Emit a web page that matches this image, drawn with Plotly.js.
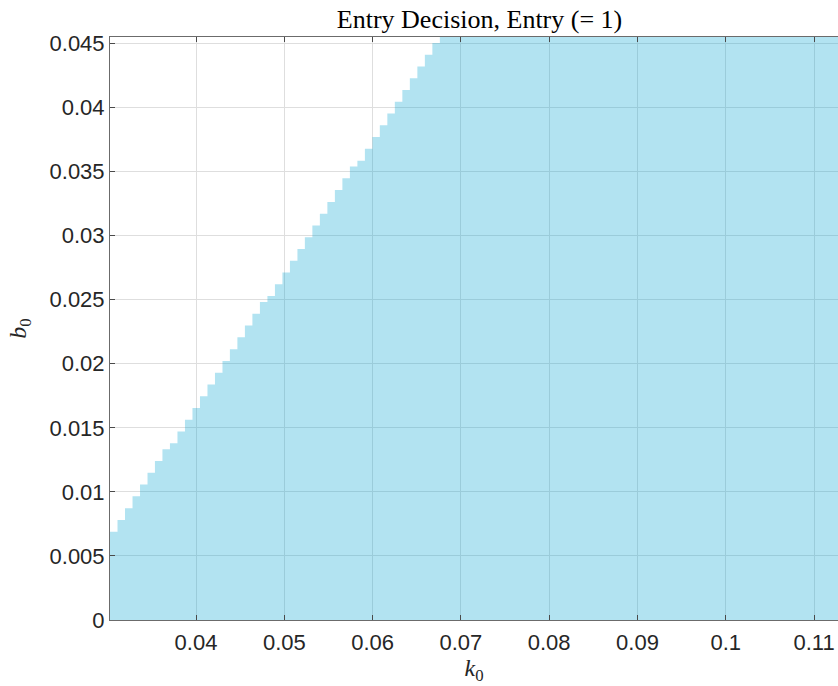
<!DOCTYPE html>
<html>
<head>
<meta charset="utf-8">
<script src="https://cdn.plot.ly/plotly-3.0.1.min.js"></script>
<style>
  html, body { margin: 0; padding: 0; background: #ffffff; overflow: hidden; }
  #chart { width: 838px; height: 686px; }
</style>
</head>
<body>
<div id="chart"></div>
<script>
// k0 grid: left edge of each column of the entry region boundary (last = far right of the grid)
const k0 = [0.03026, 0.03111, 0.03196, 0.03281, 0.03366, 0.03451, 0.03535, 0.03620, 0.03705, 0.03790,
            0.03875, 0.03960, 0.04045, 0.04130, 0.04215, 0.04300, 0.04384, 0.04469, 0.04554, 0.04639,
            0.04724, 0.04809, 0.04894, 0.04979, 0.05064, 0.05149, 0.05233, 0.05318, 0.05403, 0.05488,
            0.05573, 0.05658, 0.05743, 0.05828, 0.05913, 0.05998, 0.06082, 0.06167, 0.06252, 0.06337,
            0.06422, 0.06507, 0.06592, 0.06677, 0.06762, 0.1143];
// b0: upper edge of the Entry (= 1) region in each column
const b0 = [0.00689, 0.00781, 0.00873, 0.00965, 0.01057, 0.01149, 0.01241, 0.01333, 0.01379, 0.01471,
            0.01563, 0.01655, 0.01746, 0.01838, 0.01930, 0.02022, 0.02114, 0.02206, 0.02298, 0.02390,
            0.02482, 0.02528, 0.02620, 0.02712, 0.02804, 0.02895, 0.02987, 0.03079, 0.03171, 0.03263,
            0.03355, 0.03447, 0.03539, 0.03585, 0.03677, 0.03769, 0.03861, 0.03953, 0.04044, 0.04136,
            0.04228, 0.04320, 0.04412, 0.04504, 0.0455, 0.0455];

const xTickVals = [0.04, 0.05, 0.06, 0.07, 0.08, 0.09, 0.10, 0.11];
const xTickText = ["0.04", "0.05", "0.06", "0.07", "0.08", "0.09", "0.1", "0.11"];
const yTickVals = [0, 0.005, 0.01, 0.015, 0.02, 0.025, 0.03, 0.035, 0.04, 0.045];
const yTickText = ["0", "0.005", "0.01", "0.015", "0.02", "0.025", "0.03", "0.035", "0.04", "0.045"];

const xRange = [0.03026, 0.11271];
const yRange = [0, 0.0455];

const trace = {
  type: 'scatter',
  mode: 'lines',
  x: k0,
  y: b0,
  line: { shape: 'hv', width: 0, color: 'rgba(0,0,0,0)' },
  fill: 'tozeroy',
  fillcolor: 'rgba(14,167,211,0.32)',
  hoverinfo: 'skip',
  showlegend: false
};

const axisCommon = {
  showline: true,
  linecolor: '#6b6b6b',
  linewidth: 1,
  ticks: 'inside',
  ticklen: 5,
  tickwidth: 1,
  tickcolor: '#4a4a4a',
  showgrid: true,
  gridcolor: 'rgb(222,222,222)',
  gridwidth: 1,
  zeroline: false,
  tickfont: { family: 'Liberation Sans, Arial, sans-serif', size: 22, color: '#262626' },
  automargin: false
};

const layout = {
  width: 838,
  height: 686,
  margin: { l: 110, r: 0, t: 37, b: 66, pad: 0 },
  paper_bgcolor: '#ffffff',
  plot_bgcolor: '#ffffff',
  title: {
    text: 'Entry Decision, Entry (= 1)',
    font: { family: 'Liberation Serif, Times New Roman, serif', size: 26, color: '#000000' },
    xref: 'paper', x: 0.5076, xanchor: 'center',
    yref: 'container', y: 0.972, yanchor: 'middle'
  },
  xaxis: Object.assign({}, axisCommon, {
    range: xRange,
    tickmode: 'array', tickvals: xTickVals, ticktext: xTickText,
    mirror: 'ticks',
    ticklabelstandoff: 3,
    title: {
      text: '<i>k</i><sub>0</sub>',
      font: { family: 'Liberation Serif, Times New Roman, serif', size: 24, color: '#262626' },
      standoff: 0
    }
  }),
  yaxis: Object.assign({}, axisCommon, {
    range: yRange,
    tickmode: 'array', tickvals: yTickVals, ticktext: yTickText,
    mirror: false,
    title: {
      text: '<i>b</i><sub>0</sub>',
      font: { family: 'Liberation Serif, Times New Roman, serif', size: 24, color: '#262626' },
      standoff: 16
    }
  })
};

Plotly.newPlot('chart', [trace], layout, { staticPlot: true, displayModeBar: false });
</script>
</body>
</html>
